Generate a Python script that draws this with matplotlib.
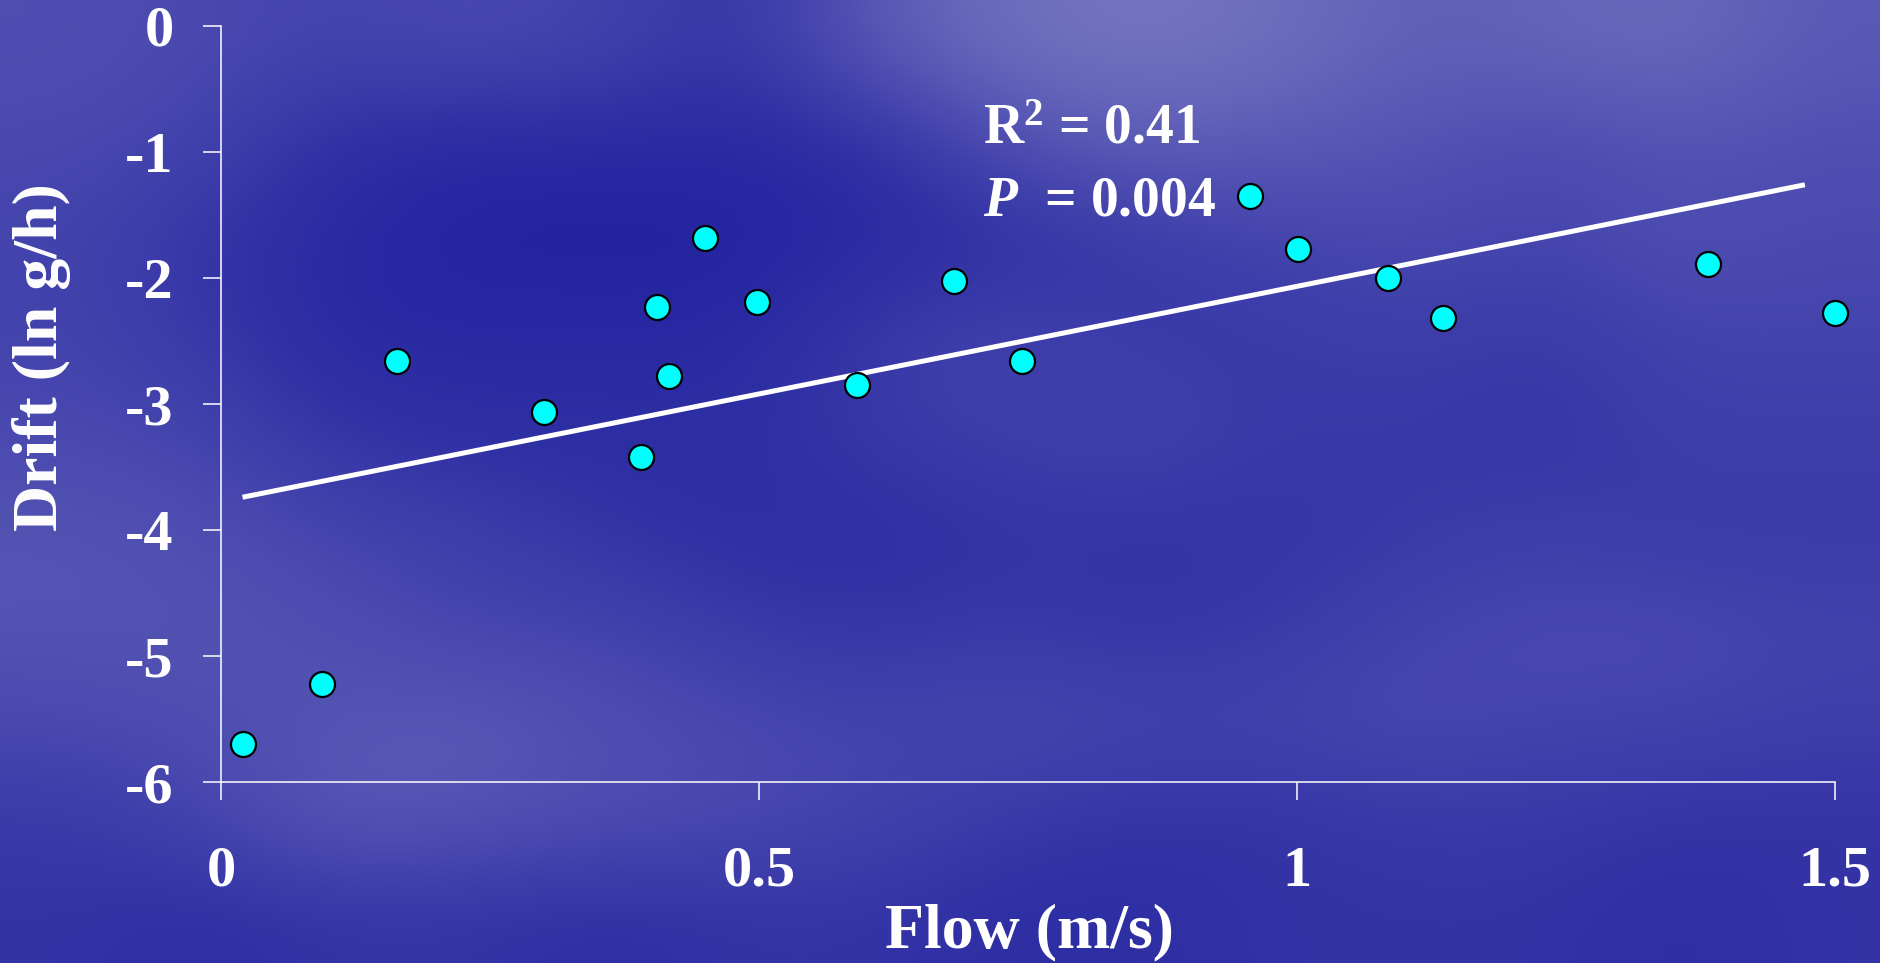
import numpy as np
import matplotlib
matplotlib.use("Agg")
import matplotlib.pyplot as plt
from matplotlib.colors import to_rgb

flow = [0.020, 0.094, 0.164, 0.300, 0.390, 0.405, 0.416, 0.450, 0.498,
        0.591, 0.681, 0.744, 0.956, 1.001, 1.085, 1.136, 1.382, 1.500]
drift = [-5.70, -5.22, -2.66, -3.06, -3.42, -2.23, -2.78, -1.68, -2.19,
         -2.85, -2.02, -2.66, -1.35, -1.77, -2.00, -2.32, -1.89, -2.28]
# regression line end points
fit_x = [0.02, 1.472]
fit_y = [-3.74, -1.26]

xticks = [0, 0.5, 1, 1.5]
xtick_labels = ["0", "0.5", "1", "1.5"]
yticks = [0, -1, -2, -3, -4, -5, -6]
ytick_labels = ["0", "-1", "-2", "-3", "-4", "-5", "-6"]
r2_text = r"R$^{\mathbf{2}}$ = 0.41"
p_text = r"$\mathit{P}$  = 0.004"

# coarse brightness map of the cloudy slide background (rows top->bottom)
cloud = [
    [0.40, 0.35, 0.30, 0.35, 0.30, 0.15, 0.50, 0.70, 0.75, 0.70, 0.55, 0.60, 0.65, 0.50],
    [0.35, 0.30, 0.10, 0.05, 0.05, 0.05, 0.10, 0.40, 0.55, 0.50, 0.45, 0.35, 0.45, 0.40],
    [0.30, 0.15, 0.05, 0.00, 0.00, 0.00, 0.05, 0.10, 0.20, 0.30, 0.35, 0.30, 0.40, 0.35],
    [0.30, 0.20, 0.05, 0.05, 0.05, 0.05, 0.20, 0.30, 0.20, 0.20, 0.25, 0.20, 0.30, 0.30],
    [0.35, 0.30, 0.15, 0.10, 0.10, 0.10, 0.20, 0.25, 0.30, 0.20, 0.20, 0.15, 0.25, 0.25],
    [0.45, 0.40, 0.30, 0.25, 0.15, 0.10, 0.10, 0.15, 0.15, 0.15, 0.20, 0.25, 0.20, 0.20],
    [0.45, 0.45, 0.40, 0.30, 0.30, 0.20, 0.15, 0.20, 0.15, 0.20, 0.30, 0.35, 0.35, 0.30],
    [0.35, 0.40, 0.45, 0.50, 0.40, 0.35, 0.30, 0.35, 0.30, 0.30, 0.35, 0.30, 0.30, 0.25],
    [0.20, 0.30, 0.50, 0.45, 0.40, 0.35, 0.30, 0.20, 0.15, 0.15, 0.20, 0.20, 0.15, 0.15],
    [0.15, 0.10, 0.15, 0.15, 0.10, 0.15, 0.15, 0.10, 0.10, 0.15, 0.15, 0.15, 0.10, 0.15],
]
DARK = np.array(to_rgb("#2323a0"))
LIGHT = np.array(to_rgb("#9090cc"))

W, H = 1880, 963
SERIF = ["Liberation Serif", "DejaVu Serif"]

plt.rcParams["font.family"] = SERIF
plt.rcParams["font.weight"] = "bold"
plt.rcParams["mathtext.fontset"] = "custom"
plt.rcParams["mathtext.rm"] = "Liberation Serif:bold"
plt.rcParams["mathtext.bf"] = "Liberation Serif:bold"
plt.rcParams["mathtext.it"] = "Liberation Serif:bold:italic"


def main():
    fig = plt.figure(figsize=(W / 100, H / 100), dpi=100)

    bg = fig.add_axes([0, 0, 1, 1], zorder=-1)
    b = np.asarray(cloud)[..., None]
    bg.imshow(DARK + b * (LIGHT - DARK), extent=[0, 1, 0, 1], aspect="auto",
              interpolation="bicubic")
    bg.axis("off")

    # axes box: x 221..1835 px, y 26..782 px
    x0, x1, ytop, ybot = 221, 1835, 26, 782
    ax = fig.add_axes([x0 / W, 1 - ybot / H, (x1 - x0) / W, (ybot - ytop) / H])
    ax.set_facecolor("none")
    ax.set_xlim(0, 1.5)
    ax.set_ylim(-6, 0)

    ax.plot(fit_x, fit_y, color="white", lw=3.6, solid_capstyle="butt", zorder=2)
    ax.plot(flow, drift, "o", ms=18, mfc="#00ffff", mec="black", mew=1.6,
            clip_on=False, zorder=3)

    for s in ("top", "right"):
        ax.spines[s].set_visible(False)
    for s in ("left", "bottom"):
        ax.spines[s].set_color("white")
        ax.spines[s].set_linewidth(1.1)

    ax.set_xticks(xticks, xtick_labels)
    ax.set_yticks(yticks, ytick_labels)
    ax.tick_params(axis="both", colors="white", length=13, width=1.1,
                   labelsize=42, direction="out")
    ax.tick_params(axis="x", pad=33)
    ax.tick_params(axis="y", pad=21)
    for lab in ax.get_xticklabels() + ax.get_yticklabels():
        lab.set_fontweight("bold")

    fig.text(42 / W, 1 - 357 / H, "Drift (ln g/h)", rotation=90, ha="center",
             va="center", color="white", fontsize=46, fontweight="bold")
    fig.text(1029 / W, 1 - 932 / H, "Flow (m/s)", ha="center", va="center",
             color="white", fontsize=46, fontweight="bold")

    fig.text(983 / W, 1 - 143 / H, r2_text, ha="left", va="baseline",
             color="white", fontsize=40, fontweight="bold")
    fig.text(983 / W, 1 - 215 / H, p_text, ha="left", va="baseline",
             color="white", fontsize=40, fontweight="bold")

    fig.savefig("out.png", dpi=100)
    plt.close(fig)


if __name__ == "__main__":
    main()
